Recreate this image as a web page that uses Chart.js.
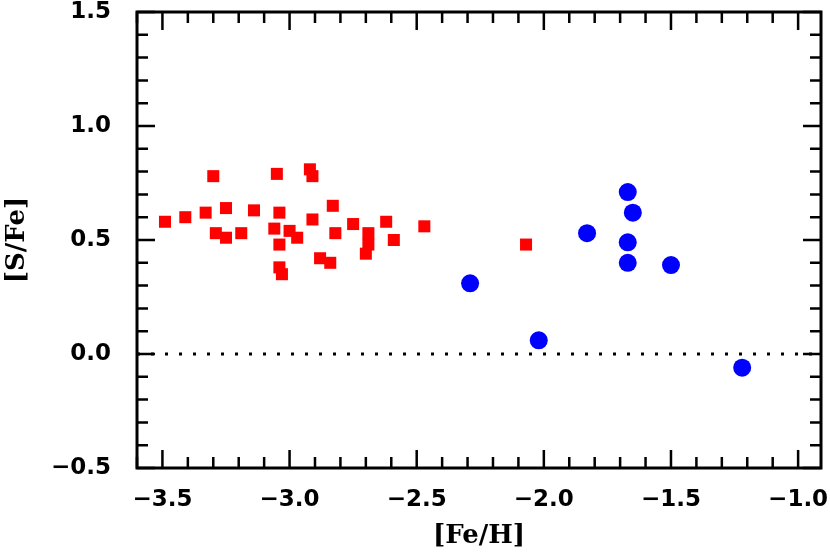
<!DOCTYPE html>
<html>
<head>
<meta charset="utf-8">
<script src="https://cdn.jsdelivr.net/npm/chart.js@4"></script>
<style>
html, body { margin: 0; padding: 0; background: #fff; }
</style>
</head>
<body>
<canvas id="myCanvas" width="830" height="553"></canvas>
<script>
// red squares
var redFeH = [-3.49, -3.41, -3.33, -3.30, -3.29, -3.25, -3.25, -3.19, -3.14, -3.05,
              -3.04, -3.06, -3.04, -3.00, -2.97, -3.04, -3.03, -2.92, -2.91, -2.91,
              -2.83, -2.88, -2.84, -2.82, -2.75, -2.69, -2.69, -2.70, -2.62, -2.59,
              -2.47, -2.07];
var redSFe = [0.58, 0.60, 0.62, 0.78, 0.53, 0.64, 0.51, 0.53, 0.63, 0.79,
              0.62, 0.55, 0.48, 0.54, 0.51, 0.38, 0.35, 0.81, 0.78, 0.59,
              0.65, 0.42, 0.40, 0.53, 0.57, 0.53, 0.48, 0.44, 0.58, 0.50,
              0.56, 0.48];
// blue circles
var blueFeH = [-2.29, -2.02, -1.83, -1.67, -1.65, -1.67, -1.67, -1.50, -1.22];
var blueSFe = [0.31, 0.06, 0.53, 0.71, 0.62, 0.49, 0.40, 0.39, -0.06];

var xTicks = [-3.5, -3.0, -2.5, -2.0, -1.5, -1.0];
var yTicks = [-0.5, 0.0, 0.5, 1.0, 1.5];
var xMin = -3.6, xMax = -0.91;
var yMin = -0.5, yMax = 1.5;

function toPoints(xs, ys){
    var pts = [];
    for (var i = 0; i < xs.length; i++) pts.push({x: xs[i], y: ys[i]});
    return pts;
}

function fmt(v){
    return v.toFixed(1).replace('-', '\u2212');
}

// no extra room for overhanging tick labels
function noPad(scale){
    scale.paddingLeft = 0;
    scale.paddingRight = 0;
    scale.paddingTop = 0;
    scale.paddingBottom = 0;
}

// box with inward ticks on all four sides
var framePlugin = {
    id: 'frame',
    afterDatasetsDraw: function(chart){
        var ctx = chart.ctx, a = chart.chartArea;
        var xs = chart.scales.x, ys = chart.scales.y;
        ctx.save();
        ctx.strokeStyle = '#000';
        ctx.lineWidth = 2.5;
        ctx.beginPath();
        for (var i = Math.round(xMin * 10); i <= Math.round(xMax * 10); i++) {
            var v = i / 10;
            if (v < xMin || v > xMax) continue;
            var px = xs.getPixelForValue(v);
            var len = (i % 5 === 0) ? 18 : 11;
            ctx.moveTo(px, a.bottom); ctx.lineTo(px, a.bottom - len);
            ctx.moveTo(px, a.top); ctx.lineTo(px, a.top + len);
        }
        for (var j = Math.round(yMin * 10); j <= Math.round(yMax * 10); j++) {
            var py = ys.getPixelForValue(j / 10);
            var l = (j % 5 === 0) ? 18 : 11;
            ctx.moveTo(a.left, py); ctx.lineTo(a.left + l, py);
            ctx.moveTo(a.right, py); ctx.lineTo(a.right - l, py);
        }
        ctx.stroke();
        ctx.lineWidth = 3;
        ctx.strokeRect(a.left, a.top, a.right - a.left, a.bottom - a.top);
        ctx.restore();
    }
};

var tickFont = {family: 'DejaVu Sans', size: 23, weight: 'bold'};
var titleFont = {family: 'DejaVu Serif', size: 26, weight: 'bold'};

var ctx = document.getElementById('myCanvas').getContext('2d');
var myChart = new Chart(ctx, {
    type: 'scatter',
    data: {
        datasets: [{
            type: 'line',
            data: [{x: xMin, y: 0}, {x: xMax, y: 0}],
            borderColor: '#000',
            borderWidth: 3,
            borderDash: [3, 11],
            pointRadius: 0,
            fill: false
        }, {
            data: toPoints(redFeH, redSFe),
            pointStyle: 'rect',
            pointRadius: 8.5,
            backgroundColor: '#ff0000',
            borderColor: '#ff0000',
            borderWidth: 0
        }, {
            data: toPoints(blueFeH, blueSFe),
            pointStyle: 'circle',
            pointRadius: 9,
            backgroundColor: '#0000ff',
            borderColor: '#0000ff',
            borderWidth: 0
        }]
    },
    options: {
        responsive: false,
        animation: false,
        events: [],
        layout: {padding: {left: 0, right: 9, top: 12, bottom: 0}},
        plugins: {legend: {display: false}, tooltip: {enabled: false}},
        scales: {
            x: {
                type: 'linear',
                min: xMin,
                max: xMax,
                grid: {display: false},
                border: {display: false},
                afterBuildTicks: function(scale){
                    scale.ticks = xTicks.map(function(v){ return {value: v}; });
                },
                afterFit: function(scale){ scale.height = 85; noPad(scale); },
                ticks: {
                    color: '#000',
                    font: tickFont,
                    padding: 10,
                    maxRotation: 0,
                    autoSkip: false,
                    callback: fmt
                },
                title: {
                    display: true,
                    text: '[Fe/H]',
                    color: '#000',
                    font: titleFont,
                    padding: {top: 0, bottom: 1}
                }
            },
            y: {
                type: 'linear',
                min: yMin,
                max: yMax,
                grid: {display: false},
                border: {display: false},
                afterBuildTicks: function(scale){
                    scale.ticks = yTicks.map(function(v){ return {value: v}; });
                },
                afterFit: function(scale){ scale.width = 137; noPad(scale); },
                ticks: {
                    color: '#000',
                    font: tickFont,
                    padding: 18,
                    autoSkip: false,
                    callback: fmt
                },
                title: {
                    display: true,
                    text: '[S/Fe]',
                    color: '#000',
                    font: titleFont,
                    padding: {top: 2, bottom: 0}
                }
            }
        }
    },
    plugins: [framePlugin]
});
</script>
</body>
</html>
